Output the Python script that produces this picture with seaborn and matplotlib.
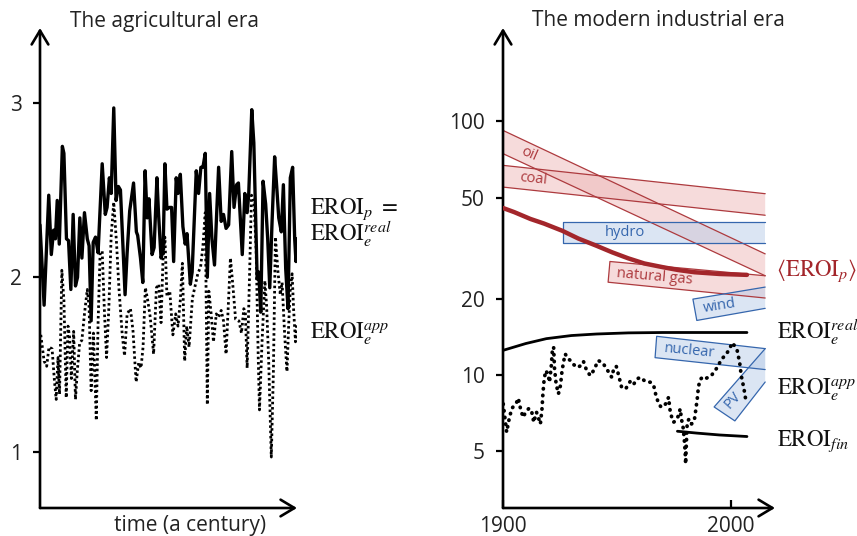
import matplotlib
matplotlib.use("Agg")
import matplotlib.pyplot as plt
import matplotlib.ticker as mticker
import pandas as pd
import seaborn as sns

# ---------------- data ----------------
# Left panel: time (years within a century), value
agr_prod = [(0.0,2.30),(1.6,1.84),(3.4,2.47),(4.4,2.13),(5.3,2.27),(6.0,2.22),(6.7,2.44),(7.5,2.19),
            (8.7,2.75),(9.3,2.71),(10.3,2.22),(11.1,2.21),(12.0,1.93),(12.9,2.36),(13.8,1.95),(14.6,2.00),
            (15.5,2.34),(16.3,2.11),(17.3,2.37),(18.4,2.22),(19.1,2.18),(19.9,1.75),(20.7,2.20),(21.6,2.23),
            (22.6,2.14),(24.2,2.65),(25.4,2.36),(26.1,2.40),(27.0,2.57),(27.7,2.48),(28.7,2.97),(29.6,2.44),
            (30.5,2.52),(31.3,2.50),(32.3,2.17),(33.1,1.90),(33.9,2.14),(34.9,2.38),(36.4,2.54),(37.5,2.26),
            (38.0,2.24),(39.1,2.11),(40.0,1.97),(40.9,2.61),(41.7,2.34),(42.4,2.45),(43.6,2.13),(44.4,2.17),
            (45.5,2.57),(46.1,2.37),(47.1,2.11),(47.9,2.15),(48.6,2.65),(49.4,2.39),(50.3,2.40),(51.2,2.40),
            (52.0,2.09),(53.0,2.57),(53.7,2.48),(54.6,2.59),(55.6,2.29),(56.5,2.19),(57.2,2.25),(58.5,1.96),
            (59.2,2.03),(60.8,2.61),(61.7,2.48),(62.6,2.63),(63.4,2.63),(64.3,2.71),(65.1,2.00),(66.0,2.48),
            (66.9,2.22),(67.9,2.07),(69.5,2.63),(70.5,2.32),(71.4,2.36),(72.4,2.28),(73.4,2.30),(74.6,2.72),
            (75.5,2.40),(76.5,2.53),(77.2,2.54),(78.7,2.13),(79.7,2.48),(80.6,2.37),(81.2,2.47),(82.4,2.96),
            (83.2,2.77),(84.5,1.99),(85.1,2.03),(85.9,1.80),(86.8,2.55),(87.8,2.42),(88.6,2.22),(89.4,1.94),
            (90.3,2.32),(91.3,2.69),(92.1,2.52),(92.9,2.34),(93.9,2.26),(94.7,2.53),(95.6,2.05),(96.5,1.82),
            (97.4,2.57),(98.3,2.63),(99.1,2.22),(99.6,2.09),(100.0,2.22)]

agr_app = [(0.3,1.67),(1.6,1.52),(2.6,1.49),(3.5,1.60),(4.7,1.59),(5.6,1.41),(6.3,1.30),(7.0,1.54),
           (7.6,1.33),(8.5,2.04),(9.3,1.87),(10.2,1.31),(10.9,1.72),(11.5,1.66),(12.2,1.42),(13.1,1.69),
           (13.8,1.30),(14.5,1.46),(15.4,1.62),(16.3,1.64),(17.3,1.79),(18.4,1.93),(19.1,1.83),(19.9,1.35),
           (20.8,1.68),(21.9,1.18),(22.6,1.74),(23.4,2.14),(24.2,2.15),(25.1,1.79),(25.9,1.54),(26.8,1.83),
           (27.7,2.24),(28.7,2.43),(29.8,2.19),(30.7,1.94),(32.0,1.67),(32.9,1.55),(33.9,1.79),(35.2,1.82),
           (36.2,1.69),(37.4,1.40),(38.4,1.51),(39.3,1.48),(40.1,1.60),(41.0,1.94),(41.9,1.87),(42.9,1.77),
           (44.2,1.56),(45.3,1.94),(46.2,1.96),(47.1,1.74),(47.9,2.12),(48.6,2.23),(49.4,1.89),(50.5,1.92),
           (51.7,1.67),(52.8,1.79),(53.7,1.72),(54.6,1.87),(55.4,2.08),(56.3,1.52),(57.1,1.72),(58.0,1.60),
           (59.3,1.88),(60.2,1.94),(61.4,2.02),(62.5,2.06),(63.4,2.18),(64.3,2.37),(65.1,1.27),(65.7,1.92),
           (66.6,1.79),(67.5,1.63),(68.6,1.79),(69.5,1.77),(70.5,1.81),(71.4,1.75),(72.4,1.56),(73.4,1.88),
           (74.1,2.11),(75.0,1.96),(76.1,1.76),(77.4,1.75),(78.4,1.68),(79.3,1.82),(79.9,1.80),(80.6,1.48),
           (81.5,1.99),(82.3,2.47),(83.2,2.45),(84.1,2.16),(84.9,1.55),(85.4,1.24),(86.4,1.63),(87.5,1.98),
           (88.2,1.83),(89.0,1.51),(90.0,0.97),(90.8,1.45),(91.6,2.23),(92.6,2.03),(93.5,1.90),(94.2,1.97),
           (95.2,1.67),(96.1,1.46),(96.8,1.74),(97.4,1.94),(98.1,2.02),(98.7,1.81),(99.4,1.63),(99.9,1.74)]

# Right panel: year, EROI (log scale)
mod_app = [(1900.1,7.69),(1900.9,6.71),(1901.6,5.95),(1902.7,6.71),(1903.8,7.35),(1904.8,7.57),(1906.0,7.81),
           (1906.7,8.10),(1907.7,7.35),(1908.8,6.81),(1910.0,7.15),(1911.4,7.39),(1912.5,7.23),(1913.5,6.51),
           (1914.7,7.13),(1915.7,6.71),(1916.4,6.41),(1917.1,7.35),(1917.5,8.42),(1918.0,9.50),(1918.7,10.4),
           (1919.7,10.1),(1920.4,9.36),(1921.2,10.9),(1921.6,12.3),(1922.2,12.9),(1922.6,10.6),(1923.3,9.22),
           (1924.3,8.42),(1925.2,9.08),(1925.8,10.2),(1926.5,11.2),(1927.3,12.1),(1928.4,11.6),(1929.6,11.4),
           (1930.9,11.0),(1932.7,10.7),(1934.2,10.9),(1935.3,11.3),(1936.7,10.4),(1938.3,9.94),(1940.0,10.5),
           (1941.7,11.4),(1943.6,11.2),(1945.1,10.7),(1946.5,10.2),(1947.7,9.79),(1948.7,10.7),(1949.7,10.8),
           (1950.9,9.82),(1952.0,8.95),(1953.8,8.81),(1956.0,9.50),(1957.4,9.22),(1958.8,9.65),(1960.3,9.79),
           (1962.5,9.41),(1964.7,9.36),(1966.1,9.08),(1967.1,8.29),(1968.3,7.69),(1969.4,7.46),(1970.7,7.57),
           (1971.9,7.81),(1972.6,8.17),(1973.3,7.23),(1974.0,6.81),(1974.8,6.51),(1975.8,6.61),(1977.0,6.92),
           (1977.7,7.35),(1978.4,6.61),(1979.1,6.13),(1979.6,5.43),(1979.9,4.96),(1980.1,4.46),(1980.4,5.30),
           (1980.8,6.51),(1981.6,6.71),(1982.7,6.41),(1983.9,6.61),(1984.5,7.23),(1985.2,8.05),(1985.7,8.95),
           (1986.4,9.56),(1987.4,9.79),(1988.6,9.65),(1990.0,9.79),(1991.4,9.94),(1992.9,10.4),(1994.0,10.7),
           (1995.1,11.2),(1996.5,11.7),(1998.0,12.1),(1999.4,12.7),(2000.6,13.4),(2001.6,13.0),(2002.7,12.5),
           (2003.8,11.2),(2004.5,9.94),(2005.7,8.81),(2006.4,8.05)]

eroi_p_years = [1900, 1905, 1912, 1918, 1926, 1933, 1941, 1948, 1955, 1962, 1970, 1977, 1984, 1995, 2007]
eroi_p_vals = [45.5, 43.8, 41.2, 39.5, 37.0, 34.5, 32.3, 30.4, 28.8, 27.5, 26.6, 25.9, 25.4, 25.0, 24.8]

eroi_real_years = [1900, 1910, 1919, 1930, 1941, 1955, 1970, 2007]
eroi_real_vals = [12.5, 13.3, 13.9, 14.3, 14.5, 14.65, 14.7, 14.7]

eroi_fin_years = [1976.5, 1985, 1995, 2007]
eroi_fin_vals = [6.0, 5.9, 5.8, 5.72]

# Bands: corner vertices (year, value): top-right, top-left, bottom-left, bottom-right
bands = {
    "oil":         [(2015, 30.0), (1900, 92.0), (1900, 74.5), (2015, 24.6)],
    "coal":        [(2015, 51.8), (1900, 67.0), (1900, 55.0), (2015, 42.6)],
    "natural gas": [(2015, 24.6), (1946.9, 28.0), (1946.1, 23.2), (2015, 20.1)],
    "hydro":       [(2015, 40.2), (1926.4, 40.2), (1926.4, 33.2), (2015, 33.2)],
    "wind":        [(2015, 22.2), (1983.3, 19.9), (1985.0, 16.4), (2015, 18.3)],
    "nuclear":     [(2015, 12.7), (1967.4, 14.2), (1966.7, 11.7), (2015, 10.5)],
    "PV":          [(2015, 12.7), (1992.6, 7.48), (2001.7, 6.59), (2015, 9.38)],
}
band_kind = {"oil": "fossil", "coal": "fossil", "natural gas": "fossil",
             "hydro": "renew", "wind": "renew", "nuclear": "renew", "PV": "renew"}
# label positions (year, value, rotation)
band_labels = {"oil": (1911.4, 74.0, -24), "coal": (1913.2, 59.2, -6),
               "natural gas": (1966.5, 24.4, -5), "hydro": (1953.5, 36.3, 0),
               "wind": (1994.8, 18.7, 9), "nuclear": (1981.7, 12.4, -5.5), "PV": (2000.9, 7.92, 48)}

# ---------------- style ----------------
sns.set_theme(style="white")
plt.rcParams["font.family"] = ["Open Sans", "DejaVu Sans"]
plt.rcParams["mathtext.fontset"] = "stix"

W, H = 857, 536
fig = plt.figure(figsize=(W / 100, H / 100), dpi=100)

def fx(px):
    return px / W

def fy(py):
    return 1 - py / H

ax1 = fig.add_axes([fx(40), fy(508), (297 - 40) / W, (508 - 28) / H])
ax2 = fig.add_axes([fx(503), fy(508), (775 - 503) / W, (508 - 28) / H])

RED = "#a3262b"
RED_EDGE = "#ad3a3e"
BLUE_EDGE = "#3566ad"
TXT = "#222222"
FS = 15

for ax in (ax1, ax2):
    for s in ax.spines.values():
        s.set_visible(False)
    ax.patch.set_alpha(0)
    arrow = dict(arrowstyle="->,head_length=0.5,head_width=0.3", lw=1.9, color="black",
                 mutation_scale=20, shrinkA=0, shrinkB=0)
    ax.annotate("", xy=(0, 1), xytext=(0, 0), xycoords="axes fraction", arrowprops=arrow, annotation_clip=False)
    ax.annotate("", xy=(1, 0), xytext=(0, 0), xycoords="axes fraction", arrowprops=arrow, annotation_clip=False)

# ---- left panel ----
df_prod = pd.DataFrame(agr_prod, columns=["t", "v"])
df_app = pd.DataFrame(agr_app, columns=["t", "v"])
sns.lineplot(data=df_app, x="t", y="v", ax=ax1, color="black", lw=2.0, estimator=None, sort=False,
             linestyle=(0, (0.9, 1.0)))
sns.lineplot(data=df_prod, x="t", y="v", ax=ax1, color="black", lw=2.4, estimator=None, sort=False)
ax1.set_xlim(0, 100)
ax1.set_ylim(0.678, 3.428)
ax1.set_yticks([1, 2, 3])
ax1.set_yticklabels(["1", "2", "3"])
ax1.set_xticks([])
ax1.tick_params(axis="y", direction="out", length=5, width=1.6, pad=8, labelsize=FS, left=True,
                colors="black", labelcolor=TXT)
ax1.set_xlabel("")
ax1.set_ylabel("")

# ---- right panel ----
ax2.set_yscale("log")
for name, verts in bands.items():
    fossil = band_kind[name] == "fossil"
    face = "#eeb8b8" if fossil else "#b9cde8"
    edge = RED_EDGE if fossil else BLUE_EDGE
    xs = [p[0] for p in verts]
    ys = [p[1] for p in verts]
    ax2.fill(xs, ys, facecolor=face, alpha=0.5, edgecolor="none", zorder=1)
    ax2.plot(xs, ys, color=edge, lw=0.9, zorder=2)
    lx, ly, rot = band_labels[name]
    ax2.text(lx, ly, name, color=edge, fontsize=10.5, rotation=rot, ha="center", va="center",
             rotation_mode="anchor", zorder=3)

df_p = pd.DataFrame({"year": eroi_p_years, "v": eroi_p_vals})
df_real = pd.DataFrame({"year": eroi_real_years, "v": eroi_real_vals})
df_fin = pd.DataFrame({"year": eroi_fin_years, "v": eroi_fin_vals})
df_mapp = pd.DataFrame(mod_app, columns=["year", "v"])
sns.lineplot(data=df_p, x="year", y="v", ax=ax2, color=RED, lw=3.2, estimator=None, sort=False, zorder=4)
sns.lineplot(data=df_real, x="year", y="v", ax=ax2, color="black", lw=2.0, estimator=None, sort=False, zorder=4)
sns.lineplot(data=df_fin, x="year", y="v", ax=ax2, color="black", lw=2.0, estimator=None, sort=False, zorder=4)
sns.lineplot(data=df_mapp, x="year", y="v", ax=ax2, color="black", lw=2.7, estimator=None, sort=False,
             linestyle=(0, (0.1, 1.7)), dash_capstyle="round", zorder=5)

ax2.set_xlim(1900, 2019.3)
ax2.set_ylim(2.99, 233)
ax2.yaxis.set_major_locator(mticker.FixedLocator([5, 10, 20, 50, 100]))
ax2.yaxis.set_major_formatter(mticker.FixedFormatter(["5", "10", "20", "50", "100"]))
ax2.yaxis.set_minor_locator(mticker.NullLocator())
ax2.set_xticks([1900, 2000])
ax2.set_xticklabels(["1900", "2000"])
ax2.tick_params(axis="y", direction="out", length=5, width=1.6, pad=8, labelsize=FS, left=True,
                colors="black", labelcolor=TXT)
ax2.tick_params(axis="x", direction="in", length=6, width=1.6, pad=6, labelsize=FS, bottom=True,
                colors="black", labelcolor=TXT)
ax2.set_xlabel("")
ax2.set_ylabel("")

# ---- texts ----
fig.text(fx(165), fy(21), "The agricultural era", ha="center", va="center", fontsize=FS, color=TXT)
fig.text(fx(658), fy(21), "The modern industrial era", ha="center", va="center", fontsize=FS, color=TXT)
fig.text(fx(190), fy(525), "time (a century)", ha="center", va="center", fontsize=FS, color=TXT)

ms = 16.5
fig.text(fx(310), fy(214), r"$\mathrm{EROI}_p\ =$", fontsize=ms, va="baseline", color="#111111")
fig.text(fx(310), fy(241), r"$\mathrm{EROI}_e^{real}$", fontsize=ms, va="baseline", color="#111111")
fig.text(fx(310), fy(338), r"$\mathrm{EROI}_e^{app}$", fontsize=ms, va="baseline", color="#111111")
fig.text(fx(776), fy(276), r"$\langle\mathrm{EROI}_p\rangle$", fontsize=ms, va="baseline", color=RED)
fig.text(fx(777), fy(339), r"$\mathrm{EROI}_e^{real}$", fontsize=ms, va="baseline", color="#111111")
fig.text(fx(777), fy(394), r"$\mathrm{EROI}_e^{app}$", fontsize=ms, va="baseline", color="#111111")
fig.text(fx(777), fy(446), r"$\mathrm{EROI}_{fin}$", fontsize=ms, va="baseline", color="#111111")

fig.savefig("out.png", dpi=100)
